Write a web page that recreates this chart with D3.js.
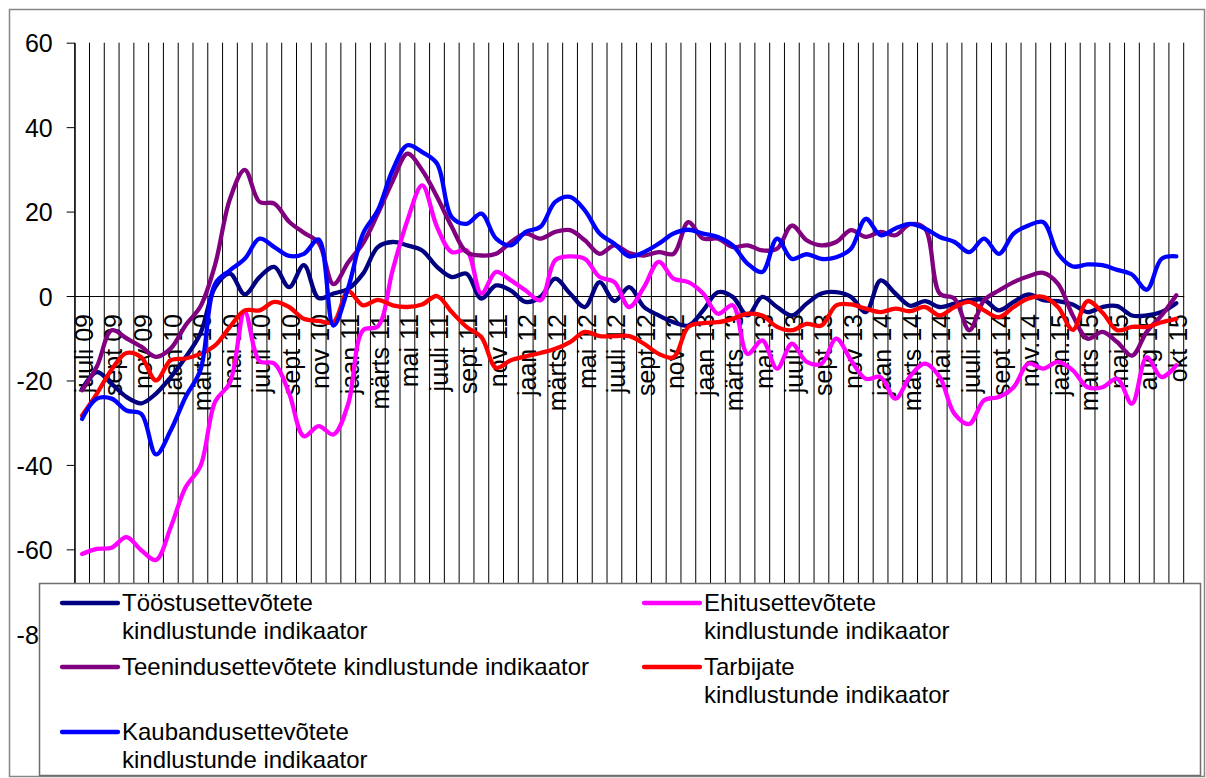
<!DOCTYPE html>
<html>
<head>
<meta charset="utf-8">
<script src="https://d3js.org/d3.v7.min.js"></script>
<style>
  body { margin: 0; background: #fff; }
  text { font-family: Arial, "Liberation Sans", sans-serif; }
</style>
</head>
<body>
<svg id="plot" width="1206" height="778"></svg>
<script>
// months on the category axis (one month is missing in the source between mai 15 and aug 15)
var categories = [
  "juuli 09", "aug 09", "sept 09", "okt 09", "nov 09", "dets 09",
  "jaan 10", "veebr 10", "märts 10", "apr 10", "mai 10", "juuni 10", "juuli 10", "aug 10", "sept 10", "okt 10", "nov 10", "dets 10",
  "jaan 11", "veebr 11", "märts 11", "apr 11", "mai 11", "juuni 11", "juuli 11", "aug 11", "sept 11", "okt 11", "nov 11", "dets 11",
  "jaan 12", "veebr 12", "märts 12", "apr 12", "mai 12", "juuni 12", "juuli 12", "aug 12", "sept 12", "okt 12", "nov 12", "dets 12",
  "jaan 13", "veebr 13", "märts 13", "apr 13", "mai 13", "juuni 13", "juuli 13", "aug 13", "sept 13", "okt 13", "nov 13", "dets 13",
  "jaan 14", "veebr 14", "märts 14", "apr 14", "mai 14", "juuni 14", "juuli 14", "aug 14", "sept 14", "okt 14", "nov.14", "dets.14",
  "jaan.15", "veebr.15", "märts 15", "apr 15", "mai 15", "juuli 15", "aug 15", "sept 15", "okt 15"
];

var yTicks = [60, 40, 20, 0, -20, -40, -60, -80];

// indicator values
var toostus = [-22, -18, -20.8, -23.9, -25.4, -23.1, -19.2, -14.5, -8.9, 2.1, 5.3, 0.4, 4.5, 6.9, 2.1, 7.3, -0.5, 0.6,
  1.7, 5.3, 11.6, 12.8, 12, 10.8, 6.9, 4.5, 5.3, -0.6, 2.5, 1.3, -1.4, -0.2, 4.1, 0.6, -2.6, 3.3, -1.2, 2.1,
  -2.6, -4.6, -6.2, -7, -3.4, 0.9, -0.2, -4.6, -0.2, -2.6, -4.6, -1.8, 0.6, 0.9, -0.2, -3.8, 3.7, 0.6,
  -2.3, -1.2, -2.6, -1.8, -1, -0.9, -3.4, -1.4, 0.4, -1, -1.2, -2, -3.8, -2.6, -2.4, -4.6, -4.6, -3.8, -1.7];

var ehitus = [-61.1, -59.9, -59.6, -57.1, -60.2, -62.5, -54.7, -45.3, -40.3, -25, -20.5, -3.8, -15.4, -16, -23, -33.2, -30.8, -32.8,
  -25.5, -8.1, -7.2, 6.1, 17.9, 26.2, 16.4, 10.4, 10.8, 0.6, 5.7, 3.7, 1.3, -1, 8.5, 9.4, 8.8, 4.5, 3.3, -2.6,
  2.1, 8.1, 4.1, 3.3, 0.6, -4.2, -2.2, -13.7, -10.5, -17.2, -11.3, -15.6, -16, -10.1, -15.2, -19.6, -19.2, -24.3,
  -19, -16, -19.2, -27.9, -30.3, -24.7, -23.9, -21.6, -16, -17.2, -15.6, -17.6, -21.6, -21.6, -19.6, -25.5, -14.5, -19.2, -16.4];

var teenindus = [-22.3, -16.7, -8.1, -10, -12, -14.4, -12.4, -6.9, -2.5, 7.5, 23, 29.9, 22.3, 21.9, 17.6, 15, 12.6, 2.8,
  8, 12.5, 19.5, 27.2, 33.7, 29.8, 23.5, 16.4, 10.4, 9.6, 10, 12.8, 14.8, 13.6, 15.2, 15.6, 13.2, 10, 12, 10.2,
  9.6, 10.4, 10, 17.5, 13.6, 13.6, 11.6, 12, 10.8, 11.2, 16.7, 13.2, 12, 12.8, 15.6, 14, 15.2, 14.4,
  17, 16, 0.6, -0.6, -8.1, -1, 1.3, 3.3, 4.7, 5.5, 2.9, -4.6, -10.1, -8.5, -10.9, -14.1, -8.5, -4.6, 0.2];

var tarbijad = [-28.3, -23.1, -17.4, -13.5, -14.5, -20, -15.2, -14.8, -13.7, -11.7, -7.3, -3.4, -3.4, -1.4, -2.6, -5.4, -5.9, -6.2,
  1.1, -2.2, -0.9, -2.2, -2.6, -2, 0, -3.8, -7.3, -9.7, -17, -15.2, -14.3, -13.5, -12.5, -10.9, -8.5, -9.5, -9.5, -9.5,
  -11.3, -13.7, -14.5, -7.3, -6.4, -6.2, -5.4, -4.2, -4.6, -7.3, -8.1, -6.6, -7, -2.2, -2, -3, -3.8, -3,
  -3.6, -2.6, -4.6, -2.6, -1.4, -3.4, -5, -2.6, -0.6, -0.2, -2.6, -8, -1.2, -3.9, -8.1, -7.3, -7.3, -6.2, -5.4];

var kaubandus = [-29.1, -24.3, -24.3, -27.1, -27.9, -37.5, -31.8, -23.9, -17.6, 2.9, 6.1, 8.8, 13.6, 11.6, 9.5, 10, 13.4, -7,
  2, 14.8, 20.3, 29.8, 35.7, 34.1, 31.4, 18.7, 17.1, 19.5, 13.6, 12, 15.2, 16.4, 22.3, 23.5, 20.3, 14.8, 12.4, 9.4,
  10.4, 12.4, 14.8, 15.7, 14.8, 14, 12, 7.7, 5.7, 13.6, 8.8, 9.9, 8.8, 9.2, 11.2, 18.3, 14.4, 16,
  17.1, 16, 14, 12.8, 10.4, 13.6, 10, 14.8, 16.7, 17.5, 10, 7, 7.5, 7.3, 6.2, 5.1, 1.5, 8.8, 9.4];

var seriesNames = [
  ["Tööstusettevõtete", "kindlustunde indikaator"],
  ["Ehitusettevõtete", "kindlustunde indikaator"],
  ["Teenindusettevõtete kindlustunde indikaator"],
  ["Tarbijate", "kindlustunde indikaator"],
  ["Kaubandusettevõtete", "kindlustunde indikaator"]
];
var seriesColors = ["#000080", "#ff00ff", "#800080", "#ff0000", "#0000ff"];
var seriesValues = [toostus, ehitus, teenindus, tarbijad, kaubandus];

var svg = d3.select("#plot");
var plot = {left: 74.7, right: 1183.7, top: 42.7, bottom: 633.8};

var x = d3.scaleBand().domain(categories).range([plot.left, plot.right]);
var y = d3.scaleLinear().domain([-80, 60]).range([plot.bottom, plot.top]);

// chart frame
svg.append("rect")
    .attr("x", 9.5).attr("y", 9.5)
    .attr("width", 1195).attr("height", 767)
    .attr("fill", "white")
    .attr("stroke", "#868686")
    .attr("stroke-width", 1.5);

// vertical gridlines between months
var borders = categories.map(function(c) { return x(c); }).concat([plot.right]);
svg.append("g")
    .attr("class", "grid")
    .selectAll("line")
    .data(borders)
    .enter().append("line")
    .attr("x1", function(d) { return d; })
    .attr("x2", function(d) { return d; })
    .attr("y1", plot.top)
    .attr("y2", plot.bottom)
    .attr("stroke", "black")
    .attr("stroke-width", 1);

// value axis, plain hyphen for negatives like the original
var gy = svg.append("g")
    .attr("transform", "translate(" + plot.left + ",0)")
    .call(d3.axisLeft(y).tickValues(yTicks).tickSize(8).tickSizeOuter(0).tickPadding(14)
        .tickFormat(function(d) { return String(d); }));
gy.selectAll("path, line").attr("stroke", "black");
gy.selectAll("text")
    .attr("font-size", 25)
    .attr("font-family", "Arial, 'Liberation Sans', sans-serif")
    .attr("fill", "black")
    .attr("dy", "0.37em");

// category axis crosses at zero, every second month labelled
var gx = svg.append("g")
    .attr("transform", "translate(0," + y(0) + ")")
    .call(d3.axisBottom(x).tickSize(0).tickSizeOuter(0)
        .tickFormat(function(d, i) { return i % 2 == 0 ? d : ""; }));
gx.select(".domain").attr("stroke", "black");
gx.selectAll("text")
    .attr("font-size", 25)
    .attr("font-family", "Arial, 'Liberation Sans', sans-serif")
    .attr("fill", "black")
    .attr("text-anchor", "end")
    .attr("x", 0).attr("y", 0)
    .attr("dy", "0.35em")
    .attr("transform", "translate(2,18) rotate(-90)");

// smoothed lines
var line = d3.line()
    .x(function(d, i) { return x(categories[i]) + x.bandwidth() / 2; })
    .y(function(d) { return y(d); })
    .curve(d3.curveCatmullRom.alpha(0.5));

svg.append("g")
    .attr("class", "lines")
    .selectAll("path")
    .data(seriesValues)
    .enter().append("path")
    .attr("d", line)
    .attr("fill", "none")
    .attr("stroke", function(d, i) { return seriesColors[i]; })
    .attr("stroke-width", 4.3)
    .attr("stroke-linejoin", "round")
    .attr("stroke-linecap", "round");

// legend box sits over the bottom of the plot
var legend = svg.append("g").attr("class", "legend");
legend.append("rect")
    .attr("x", 39.5).attr("y", 583.5)
    .attr("width", 1161).attr("height", 192)
    .attr("fill", "white")
    .attr("stroke", "#6e6e6e")
    .attr("stroke-width", 1.5);

var colX = [62, 644];
var rowY = [611, 675, 740];

var item = legend.selectAll("g.item")
    .data(seriesNames)
    .enter().append("g")
    .attr("class", "item")
    .attr("transform", function(d, i) {
        return "translate(" + colX[i % 2] + "," + rowY[Math.floor(i / 2)] + ")";
    });

item.append("line")
    .attr("x1", 0).attr("x2", 56)
    .attr("y1", -8).attr("y2", -8)
    .attr("stroke", function(d, i) { return seriesColors[i]; })
    .attr("stroke-width", 4.3)
    .attr("stroke-linecap", "round");

item.selectAll("text")
    .data(function(d) { return d; })
    .enter().append("text")
    .attr("x", 60)
    .attr("y", function(d, j) { return j * 28; })
    .attr("font-size", 24)
    .attr("fill", "black")
    .text(function(d) { return d; });
</script>
</body>
</html>
